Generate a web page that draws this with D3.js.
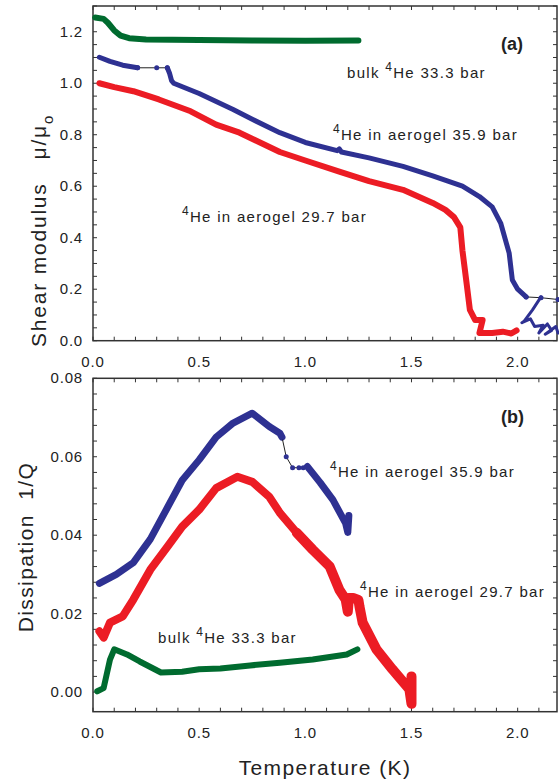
<!DOCTYPE html>
<html>
<head>
<meta charset="utf-8">
<script src="https://cdn.jsdelivr.net/npm/d3@7"></script>
<style>
  body { margin: 0; background: #fff; }
  svg { display: block; font-family: Arial, "Liberation Sans", sans-serif; }
</style>
</head>
<body>
<div id="chart"></div>
<script>
// shear modulus mu/mu0 vs T (panel a)
let greenMu = [[0.01,1.255],[0.05,1.25],[0.07,1.235],[0.1,1.205],[0.13,1.185],[0.17,1.175],[0.25,1.17],[0.5,1.168],[0.75,1.166],[1.0,1.165],[1.25,1.166]];
let blueMuA = [[0.03,1.101],[0.08,1.085],[0.14,1.07],[0.21,1.06]];
let blueMuGap = [[0.21,1.06],[0.3,1.06],[0.35,1.06]];
let blueMuB = [[0.35,1.06],[0.36,1.04],[0.37,1.01],[0.38,1.0],[0.5,0.96],[0.66,0.898],[0.75,0.86],[0.88,0.808],[1.0,0.77],[1.15,0.738],[1.16,0.745],[1.17,0.733],[1.3,0.71],[1.46,0.677],[1.6,0.64],[1.74,0.6],[1.82,0.56],[1.88,0.52],[1.92,0.457],[1.96,0.34],[1.975,0.236],[2.0,0.2],[2.04,0.17]];
let blueMuThin = [[2.04,0.17],[2.11,0.167],[2.19,0.16]];
let blueMuTail = [[2.11,0.17],[2.07,0.12],[2.03,0.075],[2.02,0.07],[2.06,0.085],[2.08,0.055],[2.12,0.06],[2.1,0.03],[2.14,0.065],[2.16,0.04],[2.13,0.025],[2.18,0.055],[2.19,0.03]];
let redMu = [[0.03,1.0],[0.1,0.985],[0.19,0.969],[0.31,0.937],[0.46,0.891],[0.58,0.839],[0.69,0.808],[0.88,0.733],[1.0,0.7],[1.16,0.657],[1.3,0.62],[1.46,0.586],[1.6,0.535],[1.66,0.508],[1.7,0.48],[1.73,0.44],[1.74,0.35],[1.76,0.22],[1.775,0.12],[1.8,0.08],[1.835,0.08],[1.82,0.03],[1.88,0.03],[1.93,0.035],[1.97,0.028],[1.995,0.04]];

// dissipation 1/Q vs T (panel b)
let greenQ = [[0.02,0.0002],[0.05,0.001],[0.08,0.0083],[0.1,0.0109],[0.16,0.0096],[0.22,0.0078],[0.32,0.005],[0.42,0.0052],[0.5,0.0058],[0.6,0.006],[0.74,0.0068],[0.88,0.0075],[1.035,0.0083],[1.195,0.0096],[1.245,0.0109]];
let blueQA = [[0.03,0.0277],[0.11,0.030],[0.19,0.033],[0.27,0.039],[0.35,0.047],[0.42,0.054],[0.5,0.0592],[0.58,0.065],[0.66,0.0686],[0.75,0.0711],[0.83,0.0677],[0.88,0.066],[0.89,0.065]];
let blueQGap = [[0.89,0.065],[0.91,0.060],[0.94,0.0572],[0.97,0.0572],[0.99,0.0572],[1.01,0.0575]];
let blueQB = [[1.01,0.0575],[1.07,0.0534],[1.13,0.049],[1.19,0.043],[1.2,0.0407],[1.205,0.045]];
let redQ = [[0.03,0.0155],[0.05,0.0139],[0.08,0.0177],[0.14,0.0193],[0.19,0.0236],[0.27,0.0312],[0.35,0.037],[0.42,0.0422],[0.5,0.0465],[0.58,0.052],[0.68,0.0549],[0.75,0.0536],[0.83,0.0498],[0.88,0.0457],[0.96,0.0406],[1.035,0.0363],[1.115,0.032],[1.16,0.0261],[1.19,0.0236],[1.2,0.0205],[1.205,0.024],[1.225,0.024],[1.25,0.0235],[1.255,0.0218],[1.27,0.0177],[1.335,0.0109],[1.41,0.0058],[1.49,0.0007],[1.5,-0.003],[1.5,0.004]];

let xTicks = [0, 0.5, 1.0, 1.5, 2.0];
let muTicks = [0, 0.2, 0.4, 0.6, 0.8, 1.0, 1.2];
let qTicks = [0, 0.02, 0.04, 0.06, 0.08];

const W = 559, H = 780;
const RED = "#ec1c24", BLUE = "#2e3192", GREEN = "#006b2f", AX = "#333";

const svg = d3.select("#chart").append("svg").attr("width", W).attr("height", H);

let x = d3.scaleLinear().domain([0, 2.19]).range([93, 558]);
let yA = d3.scaleLinear().domain([0, 1.3]).range([340.7, 6]);
let yB = d3.scaleLinear().domain([-0.005, 0.08]).range([711.7, 378.3]);

function frame(y, yMajor, yMinorStep, fmt) {
  const g = svg.append("g");
  const [y0, y1] = y.range();
  const [x0, x1] = x.range();
  g.append("rect").attr("x", x0).attr("y", y1).attr("width", x1 - x0 - 1).attr("height", y0 - y1)
    .attr("fill", "none").attr("stroke", AX).attr("stroke-width", 1.5);
  const xMinor = d3.range(0, 2.19, 0.1);
  xMinor.forEach(t => {
    g.append("line").attr("x1", x(t)).attr("x2", x(t)).attr("y1", y0).attr("y2", y0 - 4).attr("stroke", AX);
    g.append("line").attr("x1", x(t)).attr("x2", x(t)).attr("y1", y1).attr("y2", y1 + 4).attr("stroke", AX);
  });
  const [d0, d1] = y.domain();
  const n = Math.round((d1 - Math.max(d0, 0)) / yMinorStep);
  d3.range(n + 1).map(i => i * yMinorStep).forEach(v => {
    g.append("line").attr("x1", x0).attr("x2", x0 + 4).attr("y1", y(v)).attr("y2", y(v)).attr("stroke", AX);
    g.append("line").attr("x1", x1 - 1).attr("x2", x1 - 5).attr("y1", y(v)).attr("y2", y(v)).attr("stroke", AX);
  });
  g.selectAll(".yl").data(yMajor).enter().append("text")
    .attr("x", 83).attr("y", d => y(d) + 5).attr("text-anchor", "end")
    .attr("font-size", 15).attr("letter-spacing", 0.8).attr("fill", "#222").text(fmt);
  g.selectAll(".xl").data(xTicks).enter().append("text")
    .attr("x", d => x(d)).attr("y", y0 + 26).attr("text-anchor", "middle")
    .attr("font-size", 15).attr("letter-spacing", 0.8).attr("fill", "#222").text(d3.format(".1f"));
}

frame(yA, muTicks, 0.05, d3.format(".1f"));
frame(yB, qTicks, 0.004, d3.format(".2f"));

function thick(data, y, color, w) {
  svg.append("path").datum(data)
    .attr("d", d3.line().x(d => x(d[0])).y(d => y(d[1])))
    .attr("fill", "none").attr("stroke", color).attr("stroke-width", w)
    .attr("stroke-linejoin", "round").attr("stroke-linecap", "round");
}
function dotted(data, y, color) {
  svg.append("path").datum(data)
    .attr("d", d3.line().x(d => x(d[0])).y(d => y(d[1])))
    .attr("fill", "none").attr("stroke", "#222").attr("stroke-width", 1);
  svg.append("g").selectAll("circle").data(data).enter().append("circle")
    .attr("cx", d => x(d[0])).attr("cy", d => y(d[1])).attr("r", 2.5).attr("fill", color);
}

// panel (a)
thick(greenMu, yA, GREEN, 6);
thick(blueMuA, yA, BLUE, 5);
dotted(blueMuGap, yA, BLUE);
thick(blueMuB, yA, BLUE, 5);
dotted(blueMuThin, yA, BLUE);
thick(blueMuTail, yA, BLUE, 3);
thick(redMu, yA, RED, 6);

// panel (b)
thick(greenQ, yB, GREEN, 6);
thick(blueQA, yB, BLUE, 7);
dotted(blueQGap, yB, BLUE);
thick(blueQB, yB, BLUE, 7);
thick(redQ.slice(0, 15), yB, RED, 8);
thick(redQ.slice(14), yB, RED, 10);

function label(xp, yp, pre, sup, rest) {
  const t = svg.append("text").attr("x", xp).attr("y", yp).attr("font-size", 15)
    .attr("letter-spacing", 1.3).attr("fill", "#222");
  if (pre) t.append("tspan").text(pre);
  t.append("tspan").attr("font-size", 12).attr("dy", -7).text(sup);
  t.append("tspan").attr("dy", 7).text(rest);
}

label(347, 78, "bulk ", "4", "He 33.3 bar");
label(333, 140, "", "4", "He in aerogel 35.9 bar");
label(182, 222, "", "4", "He in aerogel 29.7 bar");
label(330, 477, "", "4", "He in aerogel 35.9 bar");
label(360, 597, "", "4", "He in aerogel 29.7 bar");
label(158, 643, "bulk ", "4", "He 33.3 bar");

svg.append("text").attr("x", 523).attr("y", 50).attr("text-anchor", "end")
  .attr("font-size", 18).attr("font-weight", "bold").attr("fill", "#222").text("(a)");
svg.append("text").attr("x", 524).attr("y", 423).attr("text-anchor", "end")
  .attr("font-size", 18).attr("font-weight", "bold").attr("fill", "#222").text("(b)");

// axis titles
const ta = svg.append("text").attr("transform", "translate(46,347) rotate(-90)")
  .attr("text-anchor", "start").attr("font-size", 21).attr("letter-spacing", 1.8).attr("fill", "#222");
ta.append("tspan").text("Shear modulus \u00a0\u00a0\u03bc/\u03bc");
ta.append("tspan").attr("font-size", 15).attr("dy", 7).text("o");

svg.append("text").attr("transform", "translate(33,547) rotate(-90)")
  .attr("text-anchor", "middle").attr("font-size", 21).attr("letter-spacing", 1.4).attr("fill", "#222")
  .text("Dissipation \u00a01/Q");

svg.append("text").attr("x", 325).attr("y", 775).attr("text-anchor", "middle")
  .attr("font-size", 21).attr("letter-spacing", 1.4).attr("fill", "#222").text("Temperature (K)");
</script>
</body>
</html>
